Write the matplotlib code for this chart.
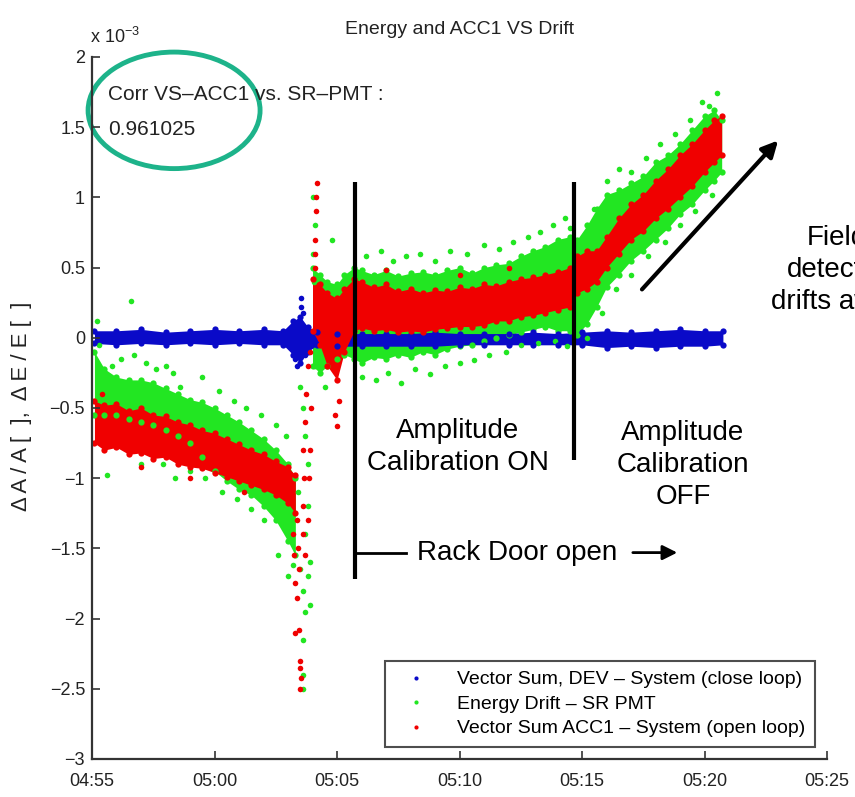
import numpy as np
import matplotlib
matplotlib.use('agg')
import matplotlib.pyplot as plt
from matplotlib.patches import Ellipse
from matplotlib.lines import Line2D

plt.rcParams['font.family'] = ['Liberation Sans', 'DejaVu Sans']
plt.rcParams['mathtext.fontset'] = 'custom'
plt.rcParams['mathtext.rm'] = 'Liberation Sans'
plt.rcParams['mathtext.it'] = 'Liberation Sans'

# time in minutes after 04:55, values in units of 1e-3
tick_minutes = [0, 5, 10, 15, 20, 25, 30]
tick_labels = ['04:55', '05:00', '05:05', '05:10', '05:15', '05:20', '05:25']
ytick_vals = [2, 1.5, 1, 0.5, 0, -0.5, -1, -1.5, -2, -2.5, -3]

# dense bands, before the door was opened
t_early = [0.1, 0.5, 1.0, 1.5, 2.0, 2.5, 3.0, 3.5, 4.0, 4.5, 5.0, 5.5, 6.0, 6.5, 7.0, 7.5, 8.0, 8.3]
red_early_hi = [-0.45, -0.48, -0.47, -0.52, -0.50, -0.55, -0.56, -0.60, -0.62, -0.66, -0.68, -0.72, -0.76, -0.80, -0.83, -0.88, -0.92, -0.98]
red_early_lo = [-0.75, -0.80, -0.78, -0.83, -0.82, -0.86, -0.85, -0.90, -0.92, -0.93, -0.96, -0.99, -1.02, -1.05, -1.08, -1.12, -1.18, -1.25]
green_early_hi = [-0.10, -0.22, -0.28, -0.30, -0.30, -0.32, -0.36, -0.40, -0.44, -0.46, -0.50, -0.55, -0.60, -0.66, -0.72, -0.80, -0.90, -1.00]
green_early_lo = [-0.55, -0.55, -0.55, -0.58, -0.60, -0.62, -0.66, -0.70, -0.75, -0.85, -0.95, -1.02, -1.08, -1.12, -1.20, -1.30, -1.45, -1.55]

# dense bands, after the disturbance
t_late = [9.0, 9.3, 9.6, 10.0, 10.3, 10.7, 11.0, 11.5, 12.0, 12.5, 13.0, 13.5, 14.0, 14.5, 15.0, 15.5, 16.0, 16.5, 17.0,
          17.5, 18.0, 18.5, 19.0, 19.5, 19.8, 20.2, 20.6, 21.0, 21.5, 22.0, 22.5, 23.0, 23.5, 24.0, 24.5, 25.0, 25.4, 25.7]
red_late_hi = [0.42, 0.38, 0.32, 0.28, 0.35, 0.42, 0.40, 0.36, 0.38, 0.33, 0.35, 0.32, 0.34, 0.33, 0.36, 0.35, 0.38, 0.37, 0.40,
               0.42, 0.43, 0.45, 0.47, 0.50, 0.58, 0.62, 0.62, 0.72, 0.85, 0.95, 1.02, 1.12, 1.20, 1.30, 1.38, 1.48, 1.55, 1.58]
red_late_lo = [0.05, -0.05, -0.20, -0.30, -0.10, 0.05, 0.07, 0.05, 0.06, 0.04, 0.05, 0.04, 0.06, 0.07, 0.08, 0.08, 0.09, 0.12, 0.12,
               0.15, 0.16, 0.18, 0.20, 0.22, 0.32, 0.35, 0.40, 0.50, 0.60, 0.70, 0.76, 0.85, 0.92, 1.00, 1.08, 1.18, 1.25, 1.30]
green_late_hi = [0.50, 0.45, 0.40, 0.38, 0.45, 0.50, 0.48, 0.45, 0.48, 0.44, 0.46, 0.47, 0.45, 0.48, 0.50, 0.46, 0.50, 0.52, 0.53,
                 0.58, 0.62, 0.65, 0.70, 0.72, 0.70, 0.80, 0.92, 1.02, 1.05, 1.10, 1.15, 1.25, 1.30, 1.38, 1.48, 1.58, 1.62, 1.55]
green_late_lo = [-0.20, -0.25, -0.20, -0.15, -0.12, -0.15, -0.18, -0.14, -0.15, -0.12, -0.14, -0.10, -0.12, -0.08, -0.06, -0.05, -0.02, 0.00, 0.02,
                 0.04, 0.06, 0.08, 0.05, 0.05, 0.02, 0.10, 0.22, 0.36, 0.45, 0.55, 0.62, 0.70, 0.78, 0.88, 0.95, 1.05, 1.12, 1.18]

# closed loop vector sum stays near zero
t_blue = [0.1, 1, 2, 3, 4, 5, 6, 7, 7.8, 8.2, 8.5, 8.8, 9.2, 10, 11, 12, 13, 14, 15, 16, 17, 18, 19, 20, 21, 22, 23, 24, 25, 25.75]
blue_hi = [0.05, 0.05, 0.06, 0.04, 0.05, 0.06, 0.05, 0.06, 0.05, 0.12, 0.15, 0.08, 0.04, 0.03, 0.03, 0.03, 0.03, 0.04, 0.03,
           0.03, 0.03, 0.04, 0.03, 0.04, 0.05, 0.04, 0.05, 0.06, 0.05, 0.05]
blue_lo = [-0.04, -0.05, -0.04, -0.05, -0.04, -0.05, -0.04, -0.05, -0.05, -0.12, -0.18, -0.10, -0.05, -0.06, -0.06, -0.06, -0.06,
           -0.06, -0.05, -0.05, -0.05, -0.05, -0.05, -0.05, -0.07, -0.06, -0.07, -0.06, -0.06, -0.05]
blue_dots_t = [8.55, 8.55, 8.6, 8.3, 8.35, 8.7]
blue_dots_v = [0.28, 0.22, 0.18, -0.15, -0.20, -0.12]

# scattered single points
green_dots_t = [1.6, 0.2, 0.3, 0.8, 1.2, 1.7, 2.2, 2.6, 3.0, 3.3, 0.6, 2.9, 3.6, 4.5, 5.2, 5.8, 6.3, 6.9, 7.5, 7.9, 4.0, 4.6,
                5.3, 5.9, 6.5, 7.0, 7.6, 8.0, 8.2, 3.4, 2.0,
                8.5, 8.6, 8.7, 8.6, 8.6, 8.6, 8.8, 8.9, 8.9, 8.7, 8.8, 8.8, 8.7, 8.6, 8.5, 9.1, 9.0, 9.1, 9.0, 9.05, 9.8, 9.5, 8.4,
                11.2, 11.8, 12.3, 12.8, 13.4, 14.0, 14.6, 15.3, 16.0, 16.6, 17.2, 17.8, 18.3, 18.8, 19.3, 19.5,
                11.0, 11.6, 12.1, 12.6, 13.2, 13.8, 14.4, 15.0, 15.6, 16.2, 16.9, 17.5, 18.2, 18.9, 19.4,
                20.5, 21.0, 21.5, 22.0, 22.6, 23.2, 23.8, 24.4, 24.9, 25.5, 25.2,
                20.2, 20.8, 21.4, 22.0, 22.7, 23.4, 24.0, 24.6, 25.3]
green_dots_v = [0.26, 0.12, -0.05, -0.20, -0.15, -0.12, -0.18, -0.22, -0.20, -0.25, -0.98, -0.90, -0.35, -0.28, -0.38, -0.45,
                -0.50, -0.55, -0.62, -0.70, -0.95, -1.00, -1.10, -1.15, -1.22, -1.30, -1.55, -1.70, -1.62, -1.00, -0.90,
                -1.65, -1.80, -1.95, -2.15, -2.40, -2.50, -1.70, -1.90, -1.60, -1.40, -1.20, -0.90, -0.70, -0.50, -0.35, -0.20,
                0.60, 0.80, 1.00, 0.40, 0.70, -0.35, -1.10,
                0.58, 0.62, 0.55, 0.58, 0.60, 0.55, 0.62, 0.60, 0.66, 0.63, 0.68, 0.72, 0.75, 0.80, 0.85, 0.78,
                -0.28, -0.30, -0.25, -0.32, -0.22, -0.26, -0.20, -0.18, -0.16, -0.12, -0.10, -0.05, -0.04, -0.02, -0.06,
                0.92, 1.12, 1.20, 1.18, 1.28, 1.38, 1.45, 1.55, 1.68, 1.74, 1.65,
                0.00, 0.18, 0.35, 0.45, 0.58, 0.68, 0.80, 0.90, 1.02]
red_dots_t = [8.35, 8.4, 8.45, 8.3, 8.35, 8.3, 8.45, 8.5, 8.5, 8.55, 8.5, 8.6, 8.65, 8.6, 8.7, 8.75, 8.8, 8.9, 8.6, 8.7, 8.8,
              8.85, 8.9, 8.95, 9.1, 9.1, 9.15, 9.2, 9.15, 9.1, 9.9, 10.0, 10.1, 8.2, 8.25,
              2.0, 4.0, 6.2, 0.4, 12.0, 15.0, 17.0]
red_dots_v = [-1.30, -1.50, -1.65, -1.75, -1.85, -2.10, -2.08, -2.30, -2.35, -2.42, -2.50, -1.20, -1.00, -0.80, -0.60, -0.40,
              -0.20, -0.10, -1.40, -1.55, -1.30, -1.00, -0.80, -0.50, 0.50, 0.70, 0.90, 1.10, 1.00, 0.60, -0.55, -0.63, -0.45,
              -1.40, -1.55,
              -0.92, -1.00, -1.10, -0.40, 0.48, 0.45, 0.50]

series_names = ['Vector Sum, DEV \u2013 System (close loop)', 'Energy Drift \u2013 SR PMT',
                'Vector Sum ACC1 \u2013 System (open loop)']
blue_c = '#0a0ac8'
green_c = '#22e622'
red_c = '#f00000'

fig = plt.figure(figsize=(8.55, 7.97), dpi=100)
ax = fig.add_axes([0.1076, 0.0477, 0.8597, 0.8808])

def band(t, lo, hi, c):
    ax.fill_between(t, lo, hi, color=c, lw=0)
    ax.plot(t, lo, ls='none', marker='o', ms=4.5, color=c, mew=0)
    ax.plot(t, hi, ls='none', marker='o', ms=4.5, color=c, mew=0)

band(t_early, green_early_lo, green_early_hi, green_c)
band(t_late, green_late_lo, green_late_hi, green_c)
ax.plot(green_dots_t, green_dots_v, ls='none', marker='o', ms=4, color=green_c, mew=0)
band(t_blue, blue_lo, blue_hi, blue_c)
ax.plot(blue_dots_t, blue_dots_v, ls='none', marker='o', ms=4, color=blue_c, mew=0)
band(t_early, red_early_lo, red_early_hi, red_c)
band(t_late, red_late_lo, red_late_hi, red_c)
ax.plot(red_dots_t, red_dots_v, ls='none', marker='o', ms=4, color=red_c, mew=0)

ax.set_xlim(0, 30)
ax.set_ylim(-3, 2)
ax.set_xticks(tick_minutes)
ax.set_xticklabels(tick_labels)
ax.set_yticks(ytick_vals)
ax.set_yticklabels([('%g' % v).replace('-', '\u2212') for v in ytick_vals])
ax.tick_params(direction='in', length=6, width=1.2, labelsize=13, colors='#333333', labelcolor='#222222')
ax.tick_params(axis='x', pad=10)
ax.tick_params(axis='y', pad=5)
for s in ['top', 'right']:
    ax.spines[s].set_visible(False)
for s in ['left', 'bottom']:
    ax.spines[s].set_linewidth(1.6)
    ax.spines[s].set_color('#333333')

ax.text(-0.003, 1.02, 'x 10$^{-3}$', transform=ax.transAxes, fontsize=13, color='#222222')
fig.text(460 / 855, 1 - 30 / 797, 'Energy and ACC1 VS Drift', ha='center', va='center', fontsize=14, color='#222222')
fig.text(22 / 855, 1 - 406 / 797, '\u0394 A / A [  ],  \u0394 E / E [  ]', rotation=90, ha='center', va='center',
         fontsize=16, color='#222222')

# correlation note with the hand drawn ring
ax.text(0.65, 1.73, 'Corr VS\u2013ACC1 vs. SR\u2013PMT :', fontsize=15, va='center', color='#222222')
ax.text(0.65, 1.48, '0.961025', fontsize=15, va='center', color='#222222')
ax.add_patch(Ellipse((3.35, 1.62), 7.02, 0.83, fill=False, ec='#1db38a', lw=3.5, clip_on=False))

# markers for the calibration phases
ax.plot([10.73, 10.73], [1.11, -1.72], color='k', lw=3, solid_capstyle='butt')
ax.plot([19.67, 19.67], [1.11, -0.87], color='k', lw=3, solid_capstyle='butt')
ax.plot([10.73, 12.8], [-1.53, -1.53], color='k', lw=2)
ax.text(17.35, -1.53, 'Rack Door open', fontsize=20, ha='center', va='center')
ax.annotate('', xy=(24.0, -1.53), xytext=(21.96, -1.53),
            arrowprops=dict(arrowstyle='-|>', lw=2, color='k', mutation_scale=22))
ax.text(14.94, -0.78, 'Amplitude\nCalibration ON', fontsize=20, ha='center', va='center', linespacing=1.3)
ax.text(24.12, -0.905, 'Amplitude\nCalibration\nOFF', fontsize=20, ha='center', va='center', linespacing=1.3)
ax.annotate('', xy=(28.08, 1.42), xytext=(22.37, 0.33), annotation_clip=False,
            arrowprops=dict(arrowstyle='-|>', lw=3, color='k', mutation_scale=24))
ax.text(30.4, 0.48, 'Field\ndetector\ndrifts away', fontsize=20, ha='center', va='center',
        linespacing=1.3, clip_on=False)

handles = [Line2D([], [], ls='none', marker='o', ms=3, mew=0, color=c) for c in (blue_c, green_c, red_c)]
leg = ax.legend(handles, series_names, loc='lower right', bbox_to_anchor=(0.984, 0.017), fontsize=14,
                frameon=True, fancybox=False, edgecolor='#222222', handlelength=2.2, handletextpad=1.0,
                labelspacing=0.35, borderpad=0.5, borderaxespad=0)
leg.get_frame().set_linewidth(1.5)

fig.savefig('out.png', dpi=100)
